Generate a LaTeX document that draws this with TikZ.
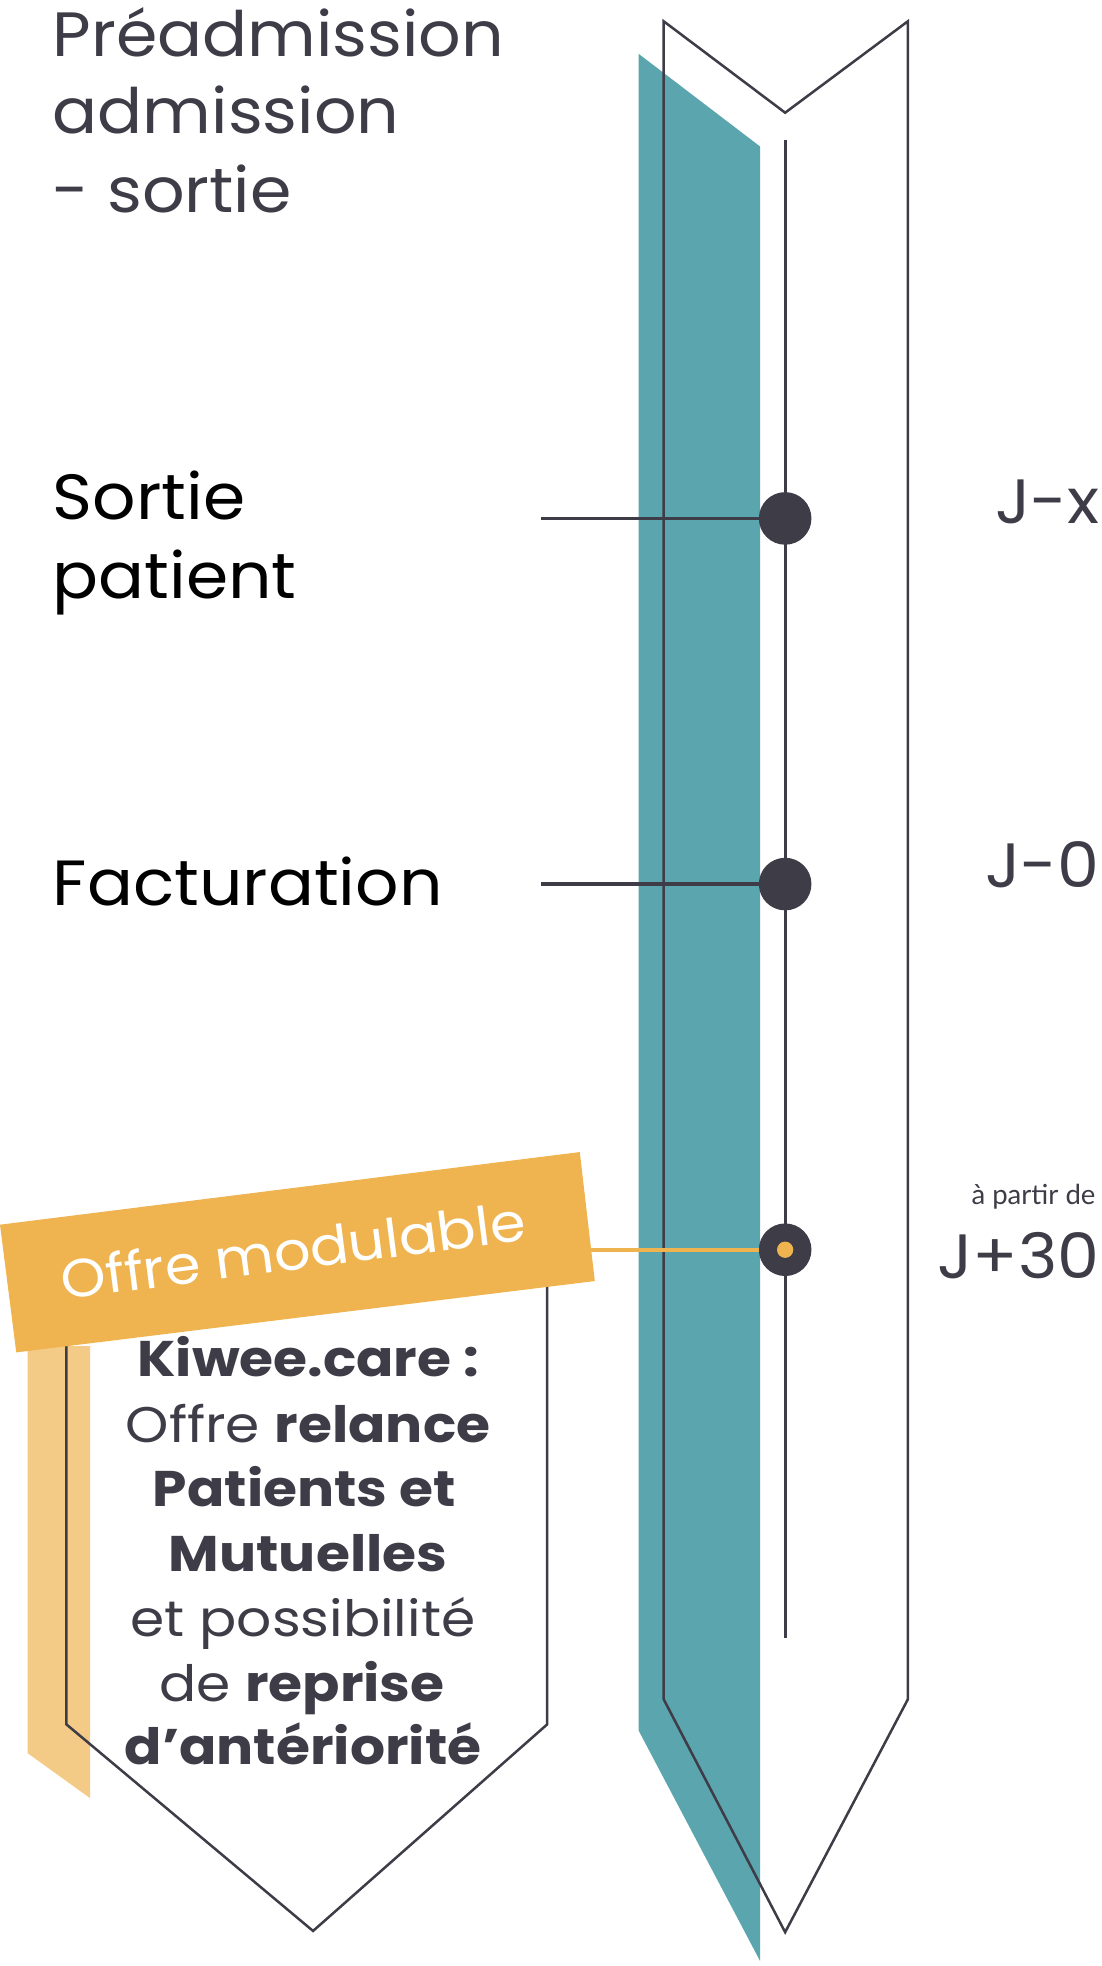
\documentclass[tikz,border=0pt]{standalone}
\usepackage{fontspec}
\newfontfamily\popw{Poppins}[FakeStretch=1.065]
\newfontfamily\popx{Poppins}[FakeStretch=1.1]
\newfontfamily\lato{Lato}
\definecolor{teal}{HTML}{5BA5AF}
\definecolor{ink}{HTML}{3D3C47}
\definecolor{gold}{HTML}{EFB450}
\definecolor{lgold}{HTML}{F4CB86}
\begin{document}
\begin{tikzpicture}[x=1pt,y=-1pt,
  outline/.style={draw=ink,line width=2pt,line join=miter},
  dot/.style={circle,fill=ink,minimum size=42pt,inner sep=0pt},
  title/.style={font=\popw\fontsize{50}{60}\selectfont,text=ink,anchor=base west,inner sep=0pt},
  stage/.style={font=\popw\fontsize{51}{60}\selectfont,text=black,anchor=base west,inner sep=0pt},
  jlab/.style={font=\popw\fontsize{50}{60}\selectfont,text=ink,anchor=base east,inner sep=0pt},
  shieldtxt/.style={font=\popx\fontsize{40}{48}\selectfont,text=ink,anchor=base,inner sep=0pt},
  link/.style={draw=ink,line width=3pt}]
\useasboundingbox (0,0) rectangle (880,1570);
% teal band
\fill[teal] (510,43) -- (607,117) -- (607,1566) -- (510,1382) -- cycle;
% big arrow outline
\draw[outline] (530,17) -- (627,90) -- (725,17) -- (725,1357) -- (627,1543) -- (530,1357) -- cycle;
\coordinate (ltop) at (627,112);
\coordinate (lbot) at (627,1308);
\draw[ink,line width=2.5pt] (ltop) -- (lbot);
% dots
\node[dot] (d1) at (627,414) {};
\node[dot] (d2) at (627,706) {};
\node[dot] (d3) at (627,998) {};
\node[circle,fill=gold,minimum size=13pt,inner sep=0pt] (d3in) at (d3) {};
% connectors
\coordinate (c1) at (432,414);
\coordinate (c2) at (432,706);
\coordinate (c3) at (472,998);
\draw[link] (c1) -- (d1.west);
\draw[link] (c2) -- (d2.west);
\draw[draw=gold,line width=3pt] (c3) -- (d3.west);
% left labels
\node[title] (t1) at (42,45) {Préadmission};
\node[title] (t2) at (42,107) {admission};
\node[title] (t3) at (42,170) {- sortie};
\node[stage] (s1) at (42,415) {Sortie};
\node[stage] (s2) at (42,478) {patient};
\node[stage] (s3) at (42,723) {Facturation};
% right labels
\node[jlab] (j1) at (878,418) {J-x};
\node[jlab] (j2) at (878,709) {J-0};
\node[font=\lato\fontsize{22}{26}\selectfont,text=ink,anchor=base east,inner sep=0pt] (ap) at (875,962) {à partir de};
\node[jlab] (j3) at (878,1021) {J+30};
% light strip
\fill[lgold] (22,1075) -- (72,1075) -- (72,1436) -- (22,1400) -- cycle;
% shield outline
\draw[outline] (53,1060) -- (53,1377) -- (250,1542) -- (437,1377) -- (437,1010);
% banner
\fill[gold] (0,978) -- (463,920) -- (475,1023) -- (13,1080) -- cycle;
\node[font=\popw\fontsize{43}{50}\selectfont,text=white,rotate=7.3,inner sep=0pt] (ban) at (234,998) {Offre modulable};
% shield text
\node[shieldtxt] (k1) at (246,1099) {\bfseries Kiwee.care :};
\node[shieldtxt] (k2) at (246,1152) {Offre \bfseries relance};
\node[shieldtxt] (k3) at (243,1203) {\bfseries Patients et};
\node[shieldtxt] (k4) at (246,1255) {\bfseries Mutuelles};
\node[shieldtxt] (k5) at (242,1307) {et possibilité};
\node[shieldtxt] (k6) at (241,1359) {de \bfseries reprise};
\node[shieldtxt] (k7) at (242,1409) {\bfseries d’antériorité};
\end{tikzpicture}
\end{document}
